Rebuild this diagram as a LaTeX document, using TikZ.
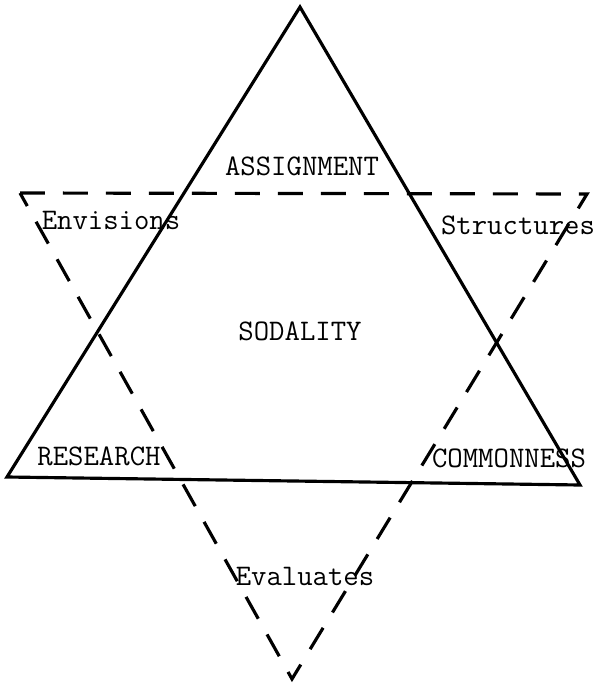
\documentclass[tikz,border=0pt]{standalone}
\usetikzlibrary{positioning}

\begin{document}
\begin{tikzpicture}[
  x=0.02cm, y=-0.02cm,
  label/.style={font=\ttfamily\fontsize{17}{19}\selectfont, inner sep=1pt},
  solidline/.style={line width=1.8pt, line join=miter},
  dashline/.style={line width=1.8pt, dash pattern=on 0.5cm off 0.36cm}
]
  \useasboundingbox (0,0) rectangle (601,683);

  % solid triangle
  \coordinate (apex) at (300,7);
  \coordinate (left) at (7,477);
  \coordinate (right) at (580,485);
  \draw[solidline] (apex) -- (left) -- (right) -- cycle;

  % dashed triangle
  \coordinate (dtl) at (20,193);
  \coordinate (dtr) at (587,194);
  \coordinate (dbot) at (292,679);
  \draw[dashline] (dtl) -- (dtr) -- (dbot) -- cycle;

  \node[label] (assign) at (302,166) {ASSIGNMENT};
  \node[label] (envis) at (111,220) {Envisions};
  \node[label] (struct) at (518,225) {Structures};
  \node[label] (soda) at (300,331) {SODALITY};
  \node[label] (research) at (99,456) {RESEARCH};
  \node[label] (common) at (509,458) {COMMONNESS};
  \node[label] (eval) at (305,576) {Evaluates};
\end{tikzpicture}
\end{document}
